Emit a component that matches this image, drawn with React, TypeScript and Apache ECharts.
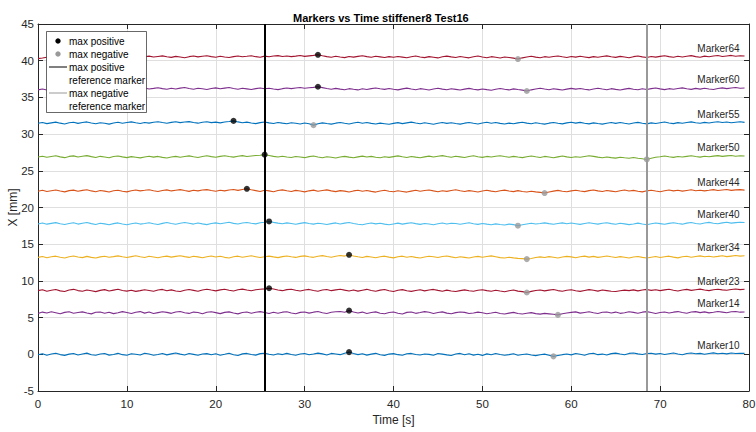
import React, { useEffect, useRef } from "react";
import * as echarts from "echarts";

// sampling step of the recorded signals [s]
const SAMPLE_STEP = 0.5;

const markerNames = ["Marker10", "Marker14", "Marker23", "Marker34", "Marker40", "Marker44", "Marker50", "Marker55", "Marker60", "Marker64"];
const markerColors = ["#0072BD", "#7E2F8E", "#A2142F", "#EDB120", "#4DBEEE", "#D95319", "#77AC30", "#0072BD", "#7E2F8E", "#A2142F"];

const marker10 = [
  -0.06, 0.08, -0.12, 0.03, 0.14, -0.04, -0.15, 0.02, 0.11, -0.09, 0.05, 0.16, -0.07, -0.13, 0.04, 0.10, -0.11, -0.02, 0.13, -0.05,
  -0.14, 0.07, 0.01, -0.10, 0.15, 0.04, -0.12, -0.03, 0.12, -0.08, 0.06, 0.17, 0.02, -0.09, 0.11, -0.01, -0.14, 0.05, 0.09, -0.06,
  0.08, -0.13, 0.00, 0.14, -0.05, -0.16, 0.06, 0.12, -0.03, -0.11, 0.09, 0.15, 0.01, -0.10, 0.07, -0.04, 0.13, -0.02, -0.12, 0.05,
  0.11, -0.07, 0.03, 0.16, 0.06, -0.09, 0.12, 0.04, -0.05, 0.14, 0.30, 0.10, -0.04, 0.08, -0.11, 0.02, 0.13, -0.06, -0.15, 0.03,
  0.09, -0.05, -0.14, 0.07, 0.12, -0.03, -0.10, 0.05, -0.01, -0.13, 0.10, 0.02, -0.08, -0.17, 0.04, 0.12, -0.06, 0.07, -0.11, 0.01,
  -0.15, 0.06, -0.07, 0.10, -0.02, -0.13, -0.04, 0.08, -0.14, -0.03, 0.05, -0.10, -0.18, -0.06, 0.02, -0.12, -0.28, -0.16, -0.05, 0.04,
  -0.08, 0.10, 0.00, -0.12, 0.07, 0.14, -0.05, 0.03, -0.10, 0.09, 0.16, 0.04, -0.07, 0.12, 0.18, 0.06, -0.03, 0.10, 0.15, 0.02,
  0.11, -0.02, 0.08, 0.17, 0.05, -0.06, 0.10, 0.18, 0.07, 0.13, 0.00, 0.11, 0.19, 0.08, 0.14, 0.06, 0.17, 0.10, 0.15, 0.12,
];
const marker14 = [
  5.57, 5.75, 5.62, 5.79, 5.67, 5.53, 5.71, 5.80, 5.60, 5.69, 5.78, 5.63, 5.51, 5.72, 5.77, 5.59, 5.74, 5.54, 5.66, 5.81,
  5.70, 5.55, 5.73, 5.82, 5.61, 5.76, 5.56, 5.68, 5.79, 5.71, 5.58, 5.77, 5.83, 5.67, 5.57, 5.75, 5.69, 5.53, 5.72, 5.80,
  5.68, 5.54, 5.71, 5.78, 5.63, 5.51, 5.70, 5.76, 5.59, 5.73, 5.81, 5.69, 5.55, 5.72, 5.60, 5.74, 5.79, 5.62, 5.52, 5.71,
  5.77, 5.61, 5.74, 5.83, 5.66, 5.56, 5.72, 5.80, 5.84, 5.73, 5.95, 5.76, 5.62, 5.75, 5.57, 5.70, 5.78, 5.59, 5.53, 5.69,
  5.76, 5.60, 5.50, 5.71, 5.77, 5.58, 5.69, 5.81, 5.72, 5.56, 5.70, 5.78, 5.61, 5.52, 5.68, 5.77, 5.71, 5.55, 5.63, 5.75,
  5.65, 5.53, 5.62, 5.73, 5.56, 5.49, 5.61, 5.71, 5.55, 5.48, 5.60, 5.68, 5.54, 5.47, 5.57, 5.51, 5.45, 5.37, 5.53, 5.63,
  5.71, 5.78, 5.61, 5.70, 5.79, 5.66, 5.56, 5.72, 5.77, 5.62, 5.75, 5.58, 5.67, 5.80, 5.71, 5.60, 5.74, 5.81, 5.69, 5.57,
  5.70, 5.77, 5.63, 5.74, 5.82, 5.69, 5.59, 5.76, 5.81, 5.68, 5.78, 5.64, 5.73, 5.83, 5.75, 5.67, 5.79, 5.84, 5.74, 5.77,
];
const marker23 = [
  8.67, 8.79, 8.60, 8.72, 8.83, 8.64, 8.56, 8.75, 8.85, 8.68, 8.59, 8.77, 8.66, 8.54, 8.71, 8.81, 8.62, 8.74, 8.86, 8.70,
  8.61, 8.73, 8.57, 8.68, 8.80, 8.70, 8.59, 8.76, 8.84, 8.66, 8.78, 8.63, 8.55, 8.72, 8.82, 8.71, 8.60, 8.77, 8.87, 8.75,
  8.64, 8.78, 8.86, 8.73, 8.63, 8.79, 8.88, 8.76, 8.66, 8.80, 8.87, 8.91, 9.00, 8.89, 8.77, 8.67, 8.81, 8.86, 8.72, 8.62,
  8.76, 8.84, 8.69, 8.59, 8.75, 8.83, 8.67, 8.78, 8.87, 8.74, 8.63, 8.76, 8.61, 8.73, 8.85, 8.70, 8.60, 8.74, 8.82, 8.65,
  8.56, 8.72, 8.81, 8.66, 8.57, 8.70, 8.79, 8.64, 8.75, 8.84, 8.71, 8.60, 8.74, 8.63, 8.55, 8.68, 8.78, 8.65, 8.58, 8.73,
  8.80, 8.67, 8.58, 8.72, 8.62, 8.53, 8.65, 8.76, 8.61, 8.54, 8.42, 8.57, 8.69, 8.77, 8.64, 8.74, 8.82, 8.68, 8.59, 8.73,
  8.79, 8.66, 8.57, 8.70, 8.81, 8.72, 8.61, 8.75, 8.67, 8.58, 8.55, 8.65, 8.74, 8.68, 8.78, 8.64, 8.76, 8.84, 8.71, 8.80,
  8.68, 8.78, 8.86, 8.73, 8.63, 8.77, 8.85, 8.71, 8.80, 8.88, 8.75, 8.67, 8.79, 8.87, 8.78, 8.72, 8.83, 8.90, 8.81, 8.86,
];
const marker34 = [
  13.20, 13.32, 13.16, 13.28, 13.37, 13.22, 13.12, 13.30, 13.40, 13.25, 13.17, 13.34, 13.21, 13.11, 13.27, 13.36, 13.23, 13.31, 13.41, 13.29,
  13.18, 13.31, 13.42, 13.30, 13.19, 13.35, 13.26, 13.15, 13.29, 13.38, 13.24, 13.34, 13.43, 13.31, 13.20, 13.36, 13.27, 13.16, 13.30, 13.39,
  13.26, 13.35, 13.21, 13.13, 13.28, 13.37, 13.23, 13.33, 13.42, 13.30, 13.18, 13.29, 13.38, 13.27, 13.17, 13.31, 13.40, 13.28, 13.20, 13.34,
  13.41, 13.29, 13.21, 13.35, 13.44, 13.32, 13.23, 13.36, 13.45, 13.38, 13.55, 13.39, 13.28, 13.19, 13.34, 13.26, 13.16, 13.30, 13.37, 13.24,
  13.14, 13.28, 13.37, 13.23, 13.33, 13.20, 13.11, 13.26, 13.35, 13.30, 13.19, 13.32, 13.40, 13.27, 13.16, 13.29, 13.21, 13.12, 13.25, 13.34,
  13.22, 13.32, 13.41, 13.29, 13.17, 13.11, 13.22, 13.14, 13.07, 13.04, 12.97, 13.06, 13.18, 13.27, 13.19, 13.31, 13.23, 13.13, 13.25, 13.34,
  13.27, 13.16, 13.29, 13.38, 13.24, 13.34, 13.21, 13.30, 13.39, 13.28, 13.18, 13.31, 13.22, 13.12, 13.26, 13.33, 13.20, 13.11, 13.23, 13.32,
  13.19, 13.30, 13.37, 13.24, 13.14, 13.28, 13.35, 13.22, 13.32, 13.41, 13.29, 13.36, 13.26, 13.34, 13.43, 13.31, 13.38, 13.45, 13.37, 13.42,
];
const marker40 = [
  17.76, 17.88, 17.73, 17.84, 17.94, 17.78, 17.68, 17.81, 17.92, 17.74, 17.86, 17.96, 17.80, 17.69, 17.85, 17.77, 17.66, 17.80, 17.90, 17.75,
  17.65, 17.78, 17.89, 17.74, 17.83, 17.93, 17.79, 17.68, 17.84, 17.95, 17.82, 17.72, 17.86, 17.96, 17.85, 17.74, 17.88, 17.77, 17.67, 17.81,
  17.91, 17.79, 17.89, 17.98, 17.84, 17.75, 17.88, 17.96, 17.86, 17.77, 17.92, 17.99, 18.10, 17.97, 17.87, 17.78, 17.91, 17.81, 17.71, 17.84,
  17.94, 17.82, 17.73, 17.86, 17.78, 17.68, 17.80, 17.90, 17.76, 17.87, 17.96, 17.83, 17.72, 17.65, 17.79, 17.89, 17.77, 17.85, 17.73, 17.64,
  17.76, 17.87, 17.74, 17.84, 17.93, 17.80, 17.70, 17.83, 17.75, 17.66, 17.78, 17.88, 17.76, 17.86, 17.81, 17.71, 17.82, 17.92, 17.79, 17.70,
  17.83, 17.73, 17.65, 17.77, 17.69, 17.62, 17.74, 17.67, 17.52, 17.66, 17.76, 17.86, 17.75, 17.82, 17.91, 17.80, 17.71, 17.83, 17.90, 17.78,
  17.88, 17.79, 17.70, 17.82, 17.92, 17.83, 17.73, 17.85, 17.93, 17.80, 17.72, 17.86, 17.77, 17.67, 17.76, 17.87, 17.75, 17.65, 17.78, 17.89,
  17.80, 17.71, 17.84, 17.93, 17.81, 17.73, 17.87, 17.95, 17.83, 17.75, 17.89, 17.97, 17.86, 17.78, 17.91, 17.98, 17.87, 17.94, 18.00, 17.95,
];
const marker44 = [
  22.21, 22.34, 22.19, 22.29, 22.38, 22.24, 22.13, 22.30, 22.37, 22.22, 22.33, 22.41, 22.26, 22.15, 22.31, 22.23, 22.12, 22.28, 22.36, 22.21,
  22.13, 22.29, 22.39, 22.27, 22.34, 22.42, 22.28, 22.17, 22.32, 22.40, 22.26, 22.35, 22.43, 22.31, 22.20, 22.36, 22.27, 22.38, 22.44, 22.32,
  22.22, 22.35, 22.27, 22.39, 22.45, 22.33, 22.46, 22.55, 22.41, 22.30, 22.19, 22.34, 22.26, 22.15, 22.31, 22.40, 22.28, 22.18, 22.33, 22.24,
  22.13, 22.27, 22.37, 22.22, 22.31, 22.40, 22.27, 22.16, 22.30, 22.23, 22.12, 22.26, 22.36, 22.21, 22.32, 22.20, 22.10, 22.24, 22.35, 22.22,
  22.14, 22.28, 22.19, 22.10, 22.23, 22.34, 22.21, 22.31, 22.39, 22.26, 22.15, 22.29, 22.20, 22.32, 22.41, 22.28, 22.17, 22.30, 22.22, 22.12,
  22.25, 22.35, 22.23, 22.14, 22.28, 22.37, 22.24, 22.16, 22.30, 22.19, 22.11, 22.22, 22.13, 22.06, 21.97, 22.12, 22.23, 22.33, 22.22, 22.14,
  22.26, 22.36, 22.25, 22.16, 22.30, 22.39, 22.27, 22.18, 22.31, 22.23, 22.14, 22.28, 22.38, 22.25, 22.33, 22.22, 22.13, 22.27, 22.35, 22.24,
  22.15, 22.29, 22.38, 22.26, 22.34, 22.23, 22.32, 22.41, 22.28, 22.36, 22.27, 22.34, 22.43, 22.31, 22.38, 22.45, 22.33, 22.40, 22.44, 22.37,
];
const marker50 = [
  26.87, 26.99, 26.85, 26.95, 27.04, 26.90, 26.79, 26.96, 27.03, 26.88, 26.98, 27.07, 26.93, 26.81, 26.97, 26.89, 26.78, 26.94, 27.02, 26.90,
  26.80, 26.93, 26.85, 26.76, 26.88, 26.98, 26.86, 26.96, 26.83, 26.75, 26.87, 26.97, 26.85, 26.94, 27.03, 26.91, 26.82, 26.95, 27.04, 26.93,
  26.84, 26.97, 27.06, 26.94, 26.86, 26.99, 27.07, 26.95, 27.02, 27.09, 27.12, 27.20, 27.08, 26.96, 26.87, 26.98, 26.89, 26.81, 26.95, 26.88,
  26.79, 26.93, 27.02, 26.89, 26.78, 26.92, 26.84, 26.75, 26.87, 26.97, 26.86, 26.77, 26.90, 27.00, 26.88, 26.96, 26.85, 26.77, 26.91, 26.83,
  26.93, 27.03, 26.91, 26.82, 26.95, 26.86, 26.78, 26.90, 27.00, 26.87, 26.98, 27.07, 26.95, 26.85, 26.99, 26.90, 26.81, 26.94, 27.04, 26.92,
  26.83, 26.96, 26.88, 26.99, 27.06, 26.95, 26.85, 26.97, 26.87, 26.79, 26.92, 27.02, 26.91, 26.82, 26.96, 26.88, 26.78, 26.90, 27.01, 26.90,
  26.81, 26.92, 26.84, 26.95, 27.04, 26.96, 26.86, 26.78, 26.89, 26.80, 26.73, 26.84, 26.77, 26.71, 26.82, 26.70, 26.64, 26.55, 26.72, 26.85,
  26.92, 27.01, 26.91, 26.83, 26.94, 26.87, 26.96, 27.05, 26.94, 26.86, 26.99, 26.91, 27.00, 27.07, 26.97, 27.03, 27.09, 26.99, 27.06, 27.02,
];
const marker55 = [
  31.47, 31.58, 31.43, 31.53, 31.63, 31.49, 31.38, 31.54, 31.62, 31.46, 31.57, 31.66, 31.52, 31.40, 31.55, 31.47, 31.36, 31.51, 31.61, 31.48,
  31.58, 31.67, 31.55, 31.45, 31.59, 31.49, 31.61, 31.69, 31.57, 31.48, 31.60, 31.68, 31.56, 31.64, 31.70, 31.58, 31.49, 31.62, 31.68, 31.56,
  31.63, 31.53, 31.64, 31.71, 31.80, 31.66, 31.55, 31.63, 31.52, 31.43, 31.56, 31.65, 31.53, 31.45, 31.59, 31.49, 31.40, 31.54, 31.47, 31.38,
  31.51, 31.42, 31.22, 31.40, 31.53, 31.44, 31.36, 31.49, 31.59, 31.47, 31.38, 31.51, 31.61, 31.48, 31.57, 31.46, 31.37, 31.50, 31.42, 31.34,
  31.46, 31.56, 31.43, 31.53, 31.63, 31.51, 31.40, 31.54, 31.45, 31.35, 31.47, 31.58, 31.46, 31.55, 31.44, 31.36, 31.49, 31.59, 31.47, 31.38,
  31.51, 31.61, 31.48, 31.57, 31.46, 31.37, 31.50, 31.42, 31.53, 31.62, 31.50, 31.41, 31.55, 31.45, 31.36, 31.49, 31.59, 31.48, 31.39, 31.53,
  31.62, 31.50, 31.60, 31.48, 31.39, 31.53, 31.44, 31.36, 31.48, 31.58, 31.46, 31.57, 31.47, 31.38, 31.51, 31.60, 31.48, 31.39, 31.53, 31.44,
  31.54, 31.64, 31.52, 31.43, 31.56, 31.48, 31.58, 31.66, 31.55, 31.47, 31.60, 31.51, 31.61, 31.69, 31.57, 31.64, 31.54, 31.62, 31.68, 31.60,
];
const marker60 = [
  36.03, 36.14, 36.01, 36.12, 36.22, 36.10, 36.18, 36.27, 36.15, 36.06, 36.20, 36.29, 36.17, 36.07, 36.21, 36.13, 36.24, 36.32, 36.20, 36.11,
  36.23, 36.14, 36.05, 36.19, 36.28, 36.15, 36.23, 36.32, 36.20, 36.10, 36.24, 36.15, 36.26, 36.34, 36.21, 36.12, 36.25, 36.17, 36.08, 36.21,
  36.30, 36.18, 36.26, 36.34, 36.21, 36.12, 36.24, 36.16, 36.07, 36.20, 36.29, 36.17, 36.25, 36.14, 36.06, 36.19, 36.28, 36.20, 36.29, 36.35,
  36.24, 36.32, 36.37, 36.45, 36.33, 36.21, 36.11, 36.23, 36.13, 36.05, 36.19, 36.10, 36.02, 36.17, 36.08, 36.20, 36.29, 36.18, 36.09, 36.22,
  36.12, 36.03, 36.16, 36.26, 36.14, 36.05, 36.19, 36.10, 36.01, 36.15, 36.25, 36.13, 36.04, 36.18, 36.09, 36.00, 36.13, 36.23, 36.12, 36.03,
  36.15, 36.06, 35.98, 36.11, 36.22, 36.10, 36.02, 36.16, 36.07, 35.99, 35.87, 36.03, 36.15, 36.24, 36.14, 36.05, 36.18, 36.09, 36.00, 36.13,
  36.23, 36.13, 36.21, 36.10, 36.02, 36.15, 36.25, 36.14, 36.05, 36.19, 36.09, 36.01, 36.13, 36.23, 36.12, 36.04, 36.17, 36.08, 36.20, 36.28,
  36.16, 36.06, 36.19, 36.11, 36.21, 36.30, 36.18, 36.09, 36.23, 36.13, 36.24, 36.15, 36.07, 36.21, 36.30, 36.19, 36.27, 36.34, 36.25, 36.29,
];
const marker64 = [
  40.28, 40.36, 40.47, 40.55, 40.44, 40.58, 40.49, 40.40, 40.53, 40.62, 40.50, 40.57, 40.45, 40.38, 40.51, 40.61, 40.48, 40.56, 40.65, 40.52,
  40.46, 40.57, 40.48, 40.39, 40.53, 40.62, 40.50, 40.58, 40.66, 40.54, 40.45, 40.59, 40.51, 40.41, 40.55, 40.64, 40.52, 40.60, 40.68, 40.56,
  40.47, 40.61, 40.51, 40.43, 40.56, 40.65, 40.53, 40.60, 40.68, 40.55, 40.48, 40.62, 40.54, 40.63, 40.69, 40.57, 40.64, 40.55, 40.62, 40.70,
  40.59, 40.66, 40.72, 40.80, 40.67, 40.56, 40.47, 40.60, 40.50, 40.42, 40.57, 40.49, 40.59, 40.67, 40.55, 40.46, 40.61, 40.52, 40.43, 40.56,
  40.48, 40.58, 40.49, 40.40, 40.54, 40.63, 40.51, 40.42, 40.56, 40.47, 40.38, 40.53, 40.62, 40.52, 40.43, 40.57, 40.48, 40.39, 40.54, 40.63,
  40.51, 40.41, 40.55, 40.46, 40.37, 40.51, 40.43, 40.35, 40.22, 40.39, 40.50, 40.60, 40.49, 40.41, 40.55, 40.47, 40.57, 40.65, 40.53, 40.44,
  40.58, 40.49, 40.60, 40.51, 40.42, 40.56, 40.47, 40.58, 40.66, 40.54, 40.45, 40.59, 40.50, 40.41, 40.55, 40.64, 40.52, 40.43, 40.57, 40.49,
  40.59, 40.67, 40.55, 40.46, 40.60, 40.51, 40.61, 40.69, 40.56, 40.48, 40.62, 40.53, 40.63, 40.70, 40.58, 40.65, 40.72, 40.60, 40.67, 40.64,
];

const markerValues = [marker10, marker14, marker23, marker34, marker40, marker44, marker50, marker55, marker60, marker64];

// max positive / max negative points per marker (same order as markerNames)
const maxPosTimes = [35, 35, 26, 35, 26, 23.5, 25.5, 22, 31.5, 31.5];
const maxPosValues = [0.3, 5.95, 9.0, 13.55, 18.1, 22.55, 27.2, 31.8, 36.45, 40.8];
const maxNegTimes = [58, 58.5, 55, 55, 54, 57, 68.5, 31, 55, 54];
const maxNegValues = [-0.28, 5.37, 8.42, 12.97, 17.52, 21.97, 26.55, 31.22, 35.87, 40.22];

// reference marker times [s]
const refPosTime = 25.5;
const refNegTime = 68.5;

const FONT = "'Liberation Sans', Arial, Helvetica, sans-serif";
const AXIS_COLOR = "#262626";
const GRAY = "#999999";

export default function App() {
  const ref = useRef<HTMLDivElement>(null);

  useEffect(() => {
    if (!ref.current) return;
    const chart = echarts.init(ref.current, null, { renderer: "svg" });

    const lineSeries = markerNames.map((name, k) => {
      const vals = markerValues[k];
      const data = vals.map((v, i) => [i * SAMPLE_STEP, v]);
      const last = data[data.length - 1];
      return {
        name,
        type: "line",
        data,
        showSymbol: false,
        symbol: "none",
        lineStyle: { color: markerColors[k], width: 1.1 },
        itemStyle: { color: markerColors[k] },
        z: 2,
        silent: true,
        markPoint: {
          symbol: "circle",
          symbolSize: 0,
          silent: true,
          itemStyle: { color: "transparent" },
          label: {
            show: true,
            position: "left",
            distance: 5,
            offset: [0, -8],
            formatter: name,
            color: AXIS_COLOR,
            fontSize: 10,
            fontFamily: FONT,
          },
          data: [{ coord: last }],
        },
      };
    });

    const legendZ = { z: 100 };
    const option: any = {
      animation: false,
      backgroundColor: "#ffffff",
      title: {
        text: "Markers vs Time stiffener8 Test16",
        left: 288,
        top: 7,
        textStyle: { fontSize: 11, fontWeight: "bold", color: "#000", fontFamily: FONT },
      },
      grid: { left: 38, right: 7, top: 24, bottom: 41, containLabel: false, outerBoundsMode: "none" },
      xAxis: [
        {
          type: "value",
          min: 0,
          max: 80,
          interval: 10,
          name: "Time [s]",
          nameLocation: "middle",
          nameGap: 23,
          nameMoveOverlap: false,
          nameTextStyle: { fontSize: 12, color: AXIS_COLOR, fontFamily: FONT },
          axisLine: { show: true, onZero: false, lineStyle: { color: AXIS_COLOR, width: 1 } },
          axisTick: { show: true, inside: true, length: 5, lineStyle: { color: AXIS_COLOR } },
          axisLabel: { fontSize: 11.5, color: AXIS_COLOR, margin: 7, fontFamily: FONT },
          splitLine: { show: true, lineStyle: { color: "#dfdfdf", width: 1 } },
        },
        {
          type: "value",
          position: "top",
          min: 0,
          max: 80,
          interval: 10,
          axisLine: { show: true, onZero: false, lineStyle: { color: AXIS_COLOR, width: 1 } },
          axisTick: { show: true, inside: true, length: 5, lineStyle: { color: AXIS_COLOR } },
          axisLabel: { show: false },
          splitLine: { show: false },
        },
      ],
      yAxis: [
        {
          type: "value",
          min: -5,
          max: 45,
          interval: 5,
          name: "X [mm]",
          nameLocation: "middle",
          nameGap: 19,
          nameRotate: 90,
          nameMoveOverlap: false,
          nameTextStyle: { fontSize: 12, color: AXIS_COLOR, fontFamily: FONT },
          axisLine: { show: true, onZero: false, lineStyle: { color: AXIS_COLOR, width: 1 } },
          axisTick: { show: true, inside: true, length: 5, lineStyle: { color: AXIS_COLOR } },
          axisLabel: { fontSize: 11.5, color: AXIS_COLOR, margin: 4, fontFamily: FONT },
          splitLine: { show: true, lineStyle: { color: "#dfdfdf", width: 1 } },
        },
        {
          type: "value",
          position: "right",
          min: -5,
          max: 45,
          interval: 5,
          axisLine: { show: true, onZero: false, lineStyle: { color: AXIS_COLOR, width: 1 } },
          axisTick: { show: true, inside: true, length: 5, lineStyle: { color: AXIS_COLOR } },
          axisLabel: { show: false },
          splitLine: { show: false },
        },
      ],
      series: [
        ...lineSeries,
        {
          name: "max positive",
          type: "scatter",
          symbol: "circle",
          symbolSize: 6,
          itemStyle: { color: "#000000" },
          z: 4,
          silent: true,
          data: maxPosTimes.map((t, i) => [t, maxPosValues[i]]),
        },
        {
          name: "max negative",
          type: "scatter",
          symbol: "circle",
          symbolSize: 6,
          itemStyle: { color: GRAY },
          z: 4,
          silent: true,
          data: maxNegTimes.map((t, i) => [t, maxNegValues[i]]),
        },
        {
          name: "max positive reference marker",
          type: "line",
          data: [],
          z: 5,
          markLine: {
            silent: true,
            symbol: ["none", "none"],
            label: { show: false },
            lineStyle: { color: "#000000", width: 2, type: "solid" },
            data: [{ xAxis: refPosTime }],
          },
        },
        {
          name: "max negative reference marker",
          type: "line",
          data: [],
          z: 5,
          markLine: {
            silent: true,
            symbol: ["none", "none"],
            label: { show: false },
            lineStyle: { color: GRAY, width: 2, type: "solid" },
            data: [{ xAxis: refNegTime }],
          },
        },
      ],
      graphic: [
        { type: "rect", ...legendZ, shape: { x: 46.5, y: 31.5, width: 100, height: 81 }, style: { fill: "#ffffff", stroke: AXIS_COLOR, lineWidth: 0.7 } },
        { type: "circle", ...legendZ, shape: { cx: 58, cy: 41, r: 2.7 }, style: { fill: "#000000" } },
        { type: "text", ...legendZ, x: 69, y: 41, style: { text: "max positive", fill: "#000", font: `10px ${FONT}`, verticalAlign: "middle" } },
        { type: "circle", ...legendZ, shape: { cx: 58, cy: 54, r: 2.7 }, style: { fill: GRAY } },
        { type: "text", ...legendZ, x: 69, y: 54, style: { text: "max negative", fill: "#000", font: `10px ${FONT}`, verticalAlign: "middle" } },
        { type: "line", ...legendZ, shape: { x1: 49, y1: 67, x2: 67, y2: 67 }, style: { stroke: "#000000", lineWidth: 1 } },
        { type: "text", ...legendZ, x: 69, y: 67, style: { text: "max positive", fill: "#000", font: `10px ${FONT}`, verticalAlign: "middle" } },
        { type: "text", ...legendZ, x: 69, y: 80, style: { text: "reference marker", fill: "#000", font: `10px ${FONT}`, verticalAlign: "middle" } },
        { type: "line", ...legendZ, shape: { x1: 49, y1: 93, x2: 67, y2: 93 }, style: { stroke: GRAY, lineWidth: 1 } },
        { type: "text", ...legendZ, x: 69, y: 93, style: { text: "max negative", fill: "#000", font: `10px ${FONT}`, verticalAlign: "middle" } },
        { type: "text", ...legendZ, x: 69, y: 106, style: { text: "reference marker", fill: "#000", font: `10px ${FONT}`, verticalAlign: "middle" } },
      ],
    };

    chart.setOption(option);
    return () => chart.dispose();
  }, []);

  return (
    <div
      ref={ref}
      style={{ position: "fixed", left: 0, top: 0, width: 756, height: 432, background: "#ffffff" }}
    />
  );
}
